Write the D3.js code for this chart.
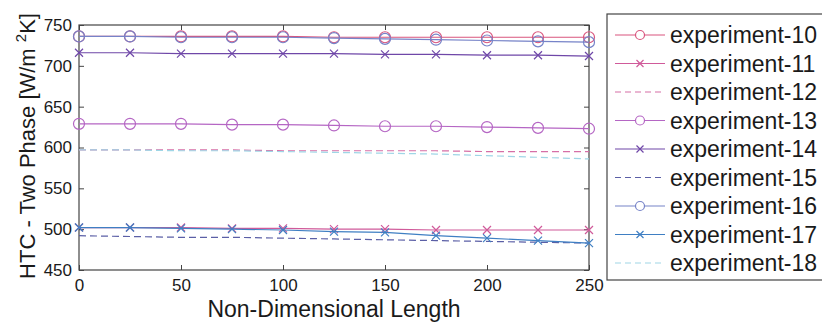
<!DOCTYPE html>
<html><head><meta charset="utf-8">
<script src="https://cdn.jsdelivr.net/npm/d3@7"></script>
<style>html,body{margin:0;padding:0;background:#fff;}svg{display:block;font-family:"Liberation Sans",Arial,sans-serif;}</style>
</head><body>
<svg id="c" width="822" height="324"></svg>
<script>
const xs = [0,25,50,75,100,125,150,175,200,225,250];
const seriesNames = ["experiment-10","experiment-11","experiment-12","experiment-13","experiment-14","experiment-15","experiment-16","experiment-17","experiment-18"];
const exp10 = [736,736,736,736,736,735,735,735,735,735,735];
const exp11 = [502,502,502,501,501,500,500,499,499,499,499];
const exp12 = [597,597,597,597,596,596,596,596,595,595,595];
const exp13 = [629,629,629,628,628,627,626,626,625,624,623];
const exp14 = [716,716,715,715,715,715,714,714,713,713,712];
const exp15 = [492,491,490,490,489,488,487,486,485,484,483];
const exp16 = [736,736,735,735,735,734,733,732,731,730,729];
const exp17 = [502,502,501,500,499,497,496,492,489,486,483];
const exp18 = [597,597,596,596,595,594,593,592,590,588,586];
const xTicks = [0,50,100,150,200,250];
const yTicks = [450,500,550,600,650,700,750];

const values = [exp10,exp11,exp12,exp13,exp14,exp15,exp16,exp17,exp18];
const colors = ["#d9557e","#d05a9a","#d66fa6","#b566c4","#6f47a8","#5b5fa6","#7683c8","#3f7fc3","#9fd6e6"];
const markers = ["o","x",null,"o","x",null,"o","x",null];
const dashed = [false,false,true,false,false,true,false,false,true];

const svg = d3.select("#c");
const L=79,R=589,T=25,B=270;
const x = d3.scaleLinear().domain([0,250]).range([L,R]);
const y = d3.scaleLinear().domain([450,750]).range([B,T]);
const axisColor="#444", textColor="#1a1a1a";

// frame
svg.append("rect").attr("x",L).attr("y",T).attr("width",R-L).attr("height",B-T)
  .attr("fill","none").attr("stroke",axisColor).attr("stroke-width",1.2);

const tl=5;
const gb = svg.append("g").attr("transform",`translate(0,${B})`)
  .call(d3.axisBottom(x).tickValues(xTicks).tickSizeInner(-tl).tickSizeOuter(0).tickPadding(9));
const gt = svg.append("g").attr("transform",`translate(0,${T})`)
  .call(d3.axisTop(x).tickValues(xTicks).tickSizeInner(-tl).tickSizeOuter(0).tickFormat(""));
const gl = svg.append("g").attr("transform",`translate(${L},0)`)
  .call(d3.axisLeft(y).tickValues(yTicks).tickSizeInner(-tl).tickSizeOuter(0).tickPadding(7));
const gr = svg.append("g").attr("transform",`translate(${R},0)`)
  .call(d3.axisRight(y).tickValues(yTicks).tickSizeInner(-tl).tickSizeOuter(0).tickFormat(""));
[gb,gt,gl,gr].forEach(g=>{
  g.select(".domain").remove();
  g.selectAll(".tick line").attr("stroke",axisColor);
  g.selectAll("text").attr("fill",textColor).attr("font-size",17).attr("font-family","Liberation Sans, Arial, sans-serif");
});

// lines
const line = d3.line().x((d,i)=>x(xs[i])).y(d=>y(d));
values.forEach((vals,k)=>{
  svg.append("path").datum(vals).attr("d",line).attr("fill","none")
    .attr("stroke",colors[k]).attr("stroke-width",1.2)
    .attr("stroke-dasharray",dashed[k]?"7,4":null);
  if(markers[k]==="o"){
    svg.append("g").selectAll("circle").data(vals).join("circle")
      .attr("cx",(d,i)=>x(xs[i])).attr("cy",d=>y(d)).attr("r",5.5)
      .attr("fill","none").attr("stroke",colors[k]).attr("stroke-width",1.2);
  } else if(markers[k]==="x"){
    svg.append("g").selectAll("path").data(vals).join("path")
      .attr("d",(d,i)=>{const cx=x(xs[i]),cy=y(d),s=4;return `M${cx-s},${cy-s}L${cx+s},${cy+s}M${cx-s},${cy+s}L${cx+s},${cy-s}`;})
      .attr("stroke",colors[k]).attr("stroke-width",1.2);
  }
});

// axis labels
svg.append("text").attr("x",(L+R)/2).attr("y",317).attr("text-anchor","middle")
  .attr("font-size",23).attr("fill",textColor).text("Non-Dimensional Length");
const yl = svg.append("text").attr("transform",`translate(35,146) rotate(-90)`)
  .attr("text-anchor","middle").attr("font-size",22).attr("fill",textColor);
yl.append("tspan").text("HTC - Two Phase [W/m ");
yl.append("tspan").attr("font-size",15).attr("dy",-9).text("2");
yl.append("tspan").attr("dy",9).text("K]");

// legend
const lx=607, ly=14, lw=230, lh=266;
svg.append("rect").attr("x",lx).attr("y",ly).attr("width",lw).attr("height",lh)
  .attr("fill","#fff").attr("stroke",axisColor).attr("stroke-width",1.2);
const rowH=28.5, y0=35;
seriesNames.forEach((n,k)=>{
  const cy=y0+k*rowH;
  const g=svg.append("g");
  g.append("line").attr("x1",615).attr("x2",665).attr("y1",cy).attr("y2",cy)
    .attr("stroke",colors[k]).attr("stroke-width",1.2).attr("stroke-dasharray",dashed[k]?"6,4":null);
  if(markers[k]==="o") g.append("circle").attr("cx",640).attr("cy",cy).attr("r",4.5).attr("fill","#fff").attr("stroke",colors[k]).attr("stroke-width",1.2);
  if(markers[k]==="x"){const s=3.5;g.append("path").attr("d",`M${640-s},${cy-s}L${640+s},${cy+s}M${640-s},${cy+s}L${640+s},${cy-s}`).attr("stroke",colors[k]).attr("stroke-width",1.2);}
  g.append("text").attr("x",670).attr("y",cy+8).attr("font-size",23).attr("fill",textColor).text(n);
});
</script>
</body></html>
